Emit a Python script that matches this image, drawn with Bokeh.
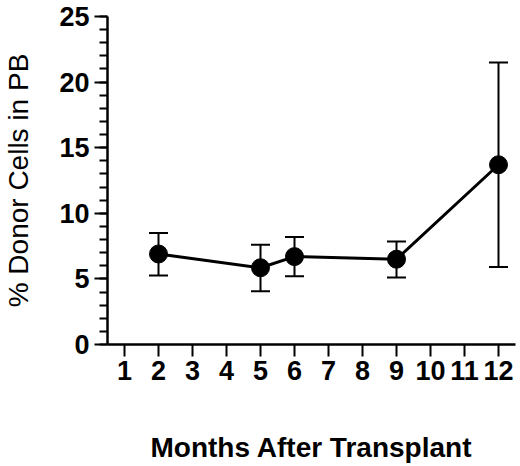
from bokeh.plotting import figure
from bokeh.models import ColumnDataSource, Whisker, TeeHead, FixedTicker
from bokeh.embed import file_html
from bokeh.resources import INLINE

months = [2, 5, 6, 9, 12]
donor_pct = [6.9, 5.85, 6.7, 6.5, 13.7]
err_upper = [8.5, 7.6, 8.2, 7.85, 21.5]
err_lower = [5.25, 4.05, 5.2, 5.1, 5.9]
x_ticks = list(range(1, 13))
y_ticks = [0, 5, 10, 15, 20, 25]

src = ColumnDataSource(data=dict(x=months, y=donor_pct, upper=err_upper, lower=err_lower))

p = figure(width=520, height=466, x_range=(0.5, 12.5), y_range=(0, 25),
           output_backend="svg", toolbar_location=None,
           min_border_left=0, min_border_right=5, min_border_top=16, min_border_bottom=122)
p.outline_line_color = None
p.grid.grid_line_color = None

p.add_layout(Whisker(base="x", upper="upper", lower="lower", source=src,
                     line_color="black", line_width=2,
                     upper_head=TeeHead(size=19, line_color="black", line_width=2),
                     lower_head=TeeHead(size=19, line_color="black", line_width=2)))
p.line("x", "y", source=src, line_color="black", line_width=3)
p.scatter("x", "y", source=src, size=18, color="black")

for ax in (p.xaxis, p.yaxis):
    ax.axis_line_width = 2.5
    ax.major_tick_line_width = 2
    ax.minor_tick_line_width = 2
    ax.major_tick_in = 0
    ax.minor_tick_in = 0
    ax.major_label_text_font = "Liberation Sans"
    ax.major_label_text_font_style = "bold"
    ax.major_label_text_font_size = "27px"
    ax.major_label_text_color = "black"
    ax.axis_label_text_font = "Liberation Sans"
    ax.axis_label_text_color = "black"

p.xaxis.ticker = FixedTicker(ticks=x_ticks)
p.xaxis.major_tick_out = 12
p.xaxis.minor_tick_out = 0
p.xaxis.major_label_standoff = 4
p.xaxis.axis_label = "Months After Transplant"
p.xaxis.axis_label_text_font_style = "bold"
p.xaxis.axis_label_text_font_size = "28px"
p.xaxis.axis_label_standoff = 49

p.yaxis.ticker = FixedTicker(ticks=y_ticks, minor_ticks=list(range(0, 26)))
p.yaxis.major_tick_out = 13
p.yaxis.minor_tick_out = 8
p.yaxis.major_label_standoff = 5
p.yaxis.axis_label = "% Donor Cells in PB"
p.yaxis.axis_label_text_font_style = "normal"
p.yaxis.axis_label_text_font_size = "28px"
p.yaxis.axis_label_standoff = 22

open("out.html", "w").write(file_html(p, INLINE))
